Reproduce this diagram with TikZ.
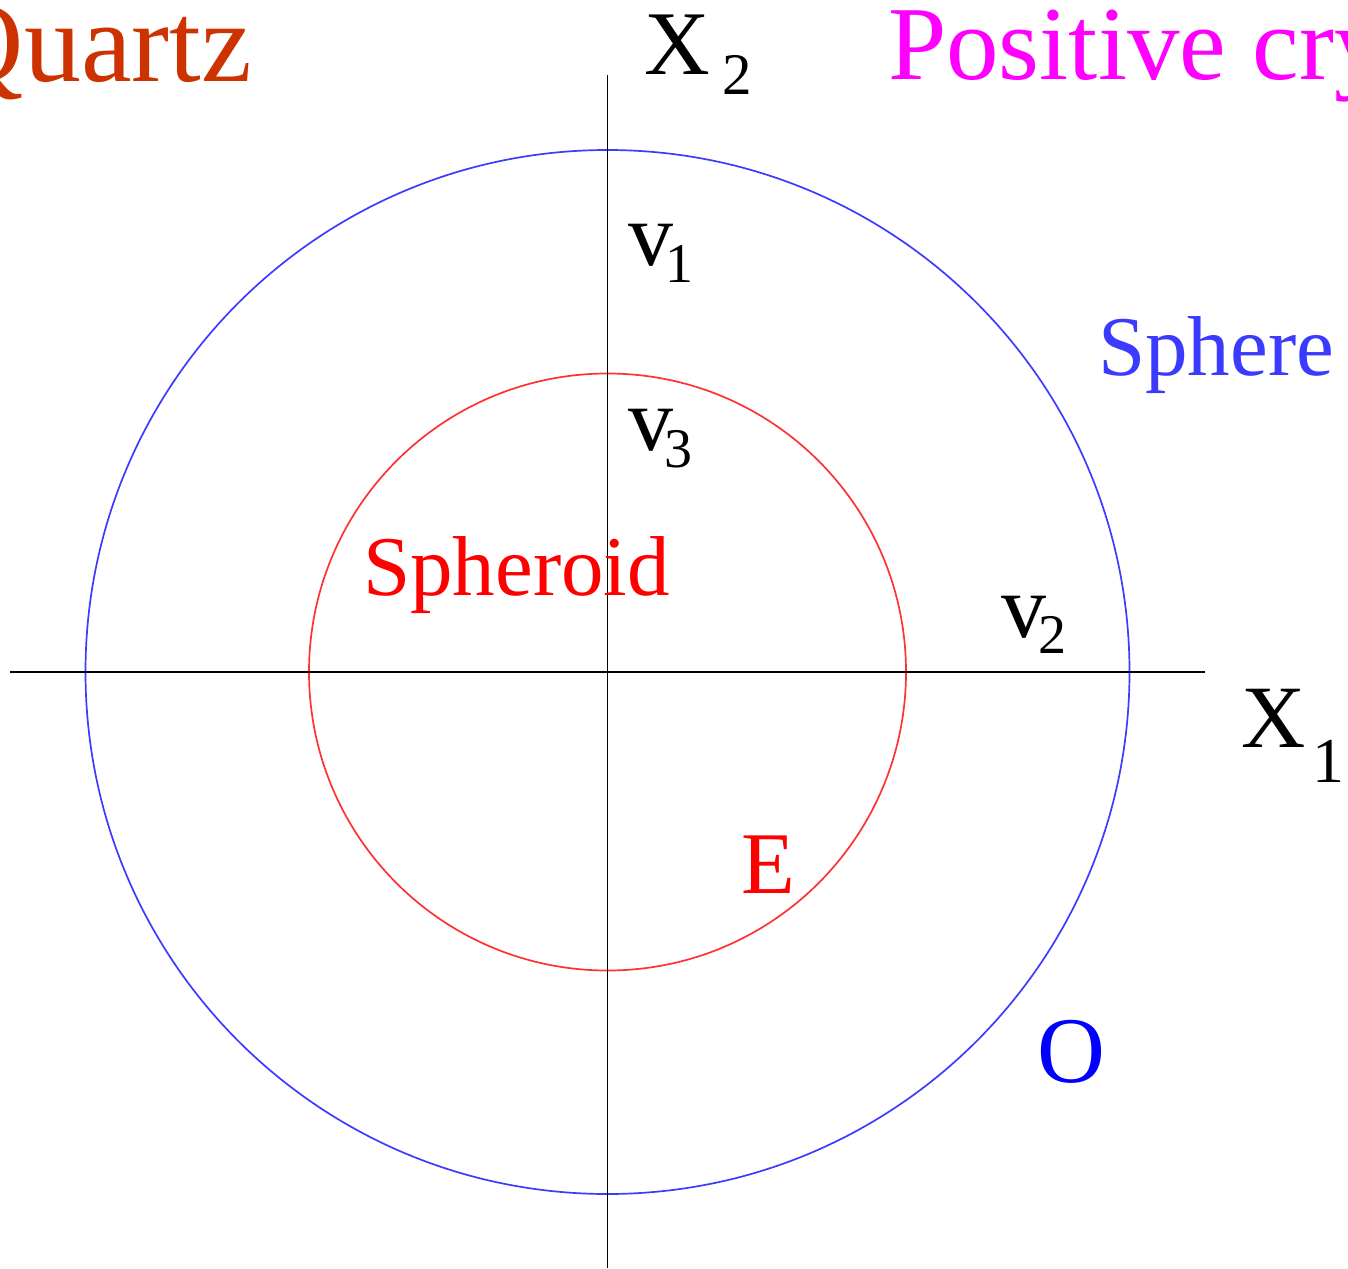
\documentclass[tikz,border=0pt]{standalone}
\usepackage{fontspec}
\setmainfont{Liberation Serif}
\definecolor{quartzc}{RGB}{204,51,0}
\definecolor{posc}{RGB}{255,0,255}
\definecolor{spherec}{RGB}{59,59,255}
\definecolor{circblue}{RGB}{60,60,255}
\definecolor{circred}{RGB}{255,50,50}
\tikzset{
  txt/.style={anchor=base west, inner sep=0pt, outer sep=0pt},
  axisline/.style={black, line width=1.7pt},
  circline/.style={line width=1.7pt},
}
\newcommand{\fs}[1]{\fontsize{#1}{#1}\selectfont}
\newcommand{\vsub}[3]{{\fs{90}v}\kern#1pt\raisebox{-#2pt}{\fs{56}#3}}
\begin{document}
\begin{tikzpicture}[x=1pt,y=-1pt]
\useasboundingbox (0,0) rectangle (1348,1268);
\clip (0,0) rectangle (1348,1268);
\coordinate (c) at (607.5,672);
\coordinate (hl) at (10,672);
\coordinate (hr) at (1205,672);
\coordinate (vt) at (607.5,75);
\coordinate (vb) at (607.5,1268);
% circles
\draw[circblue, circline] (c) circle[radius=522];
\draw[circred, circline] (c) circle[radius=298.5];
% axes
\draw[axisline] (hl) -- (hr);
\draw[axisline] (vt) -- (vb);
% labels
\node[txt, anchor=base east, text=quartzc] (quartz) at (252,82) {\fs{114}Quartz};
\node[txt, text=posc] (pos) at (888,80) {\fs{105}Positive crystal};
\node[txt] (x2) at (644,75) {\fs{91}X};
\node[txt] (x2s) at (722,95) {\fs{59}2};
\node[txt] (v1) at (628,265) {\vsub{-8}{17}{1}};
\node[txt] (v3) at (628,450) {\vsub{-9}{17}{3}};
\node[txt] (v2) at (1001,637) {\vsub{-8}{16}{2}};
\node[txt] (x1) at (1241,747) {\fs{89}X};
\node[txt] (x1s) at (1312,782) {\fs{64}1};
\node[txt, text=spherec] (sphere) at (1098,375) {\fs{85}Sphere};
\node[txt, text=red] (spheroid) at (363,595) {\fs{85}Spheroid};
\node[txt, text=red] (e) at (741,893) {\fs{88}E};
\node[txt, text=blue] (o) at (1037,1082) {\fs{94}O};
\end{tikzpicture}
\end{document}
